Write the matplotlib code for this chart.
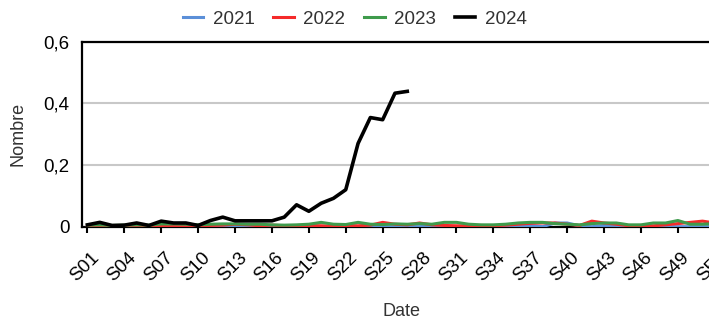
import matplotlib.pyplot as plt
import matplotlib.transforms as mtransforms
import numpy as np

plt.rcParams['font.family'] = ['Liberation Sans', 'DejaVu Sans']

semaines = ["S%02d" % i for i in range(1, 53)]
annees = ["2021", "2022", "2023", "2024"]
couleurs = ["#5b8fd8", "#f52a2a", "#3f9b4c", "#000000"]

v2021 = [0, 0, 0, 0, 0, 0, 0, 0, 0, 0, 0, 0, 0, 0, 0, 0, 0, 0, 0, 0,
         0, 0, 0, 0, 0, 0, 0, 0, 0.004, 0, 0, 0, 0, 0, 0, 0, 0.004, 0, 0.012, 0.012,
         0.003, 0, 0.004, 0.004, 0, 0, 0, 0, 0, 0, 0, 0]
v2022 = [0.004, 0.004, 0.003, 0.004, 0.004, 0.003, 0.004, 0.004, 0.003, 0.004,
         0.004, 0.005, 0.008, 0.006, 0.003, 0.005, 0.003, 0.002, 0.004, 0.003,
         0.002, 0.004, 0.003, 0.005, 0.014, 0.008, 0.006, 0.012, 0.006, 0.004,
         0.003, 0.003, 0.004, 0.003, 0.005, 0.008, 0.011, 0.012, 0.012, 0.008,
         0.004, 0.018, 0.012, 0.008, 0.003, 0.004, 0.003, 0.006, 0.010, 0.014,
         0.018, 0.012]
v2023 = [0.005, 0.006, 0.004, 0.005, 0.006, 0.005, 0.009, 0.009, 0.008, 0.006,
         0.008, 0.009, 0.009, 0.008, 0.008, 0.006, 0.005, 0.006, 0.008, 0.014,
         0.008, 0.007, 0.014, 0.008, 0.007, 0.009, 0.008, 0.010, 0.008, 0.014,
         0.014, 0.008, 0.006, 0.006, 0.008, 0.012, 0.014, 0.014, 0.010, 0.008,
         0.006, 0.010, 0.012, 0.012, 0.006, 0.006, 0.012, 0.012, 0.020, 0.008,
         0.008, 0.010]
v2024 = [0.006, 0.014, 0.004, 0.005, 0.012, 0.004, 0.018, 0.012, 0.012, 0.004,
         0.020, 0.031, 0.019, 0.019, 0.019, 0.019, 0.031, 0.071, 0.050, 0.076,
         0.092, 0.120, 0.270, 0.354, 0.347, 0.433, 0.439]

fig = plt.figure(figsize=(7.09, 3.2), dpi=100)
ax = fig.add_axes([0.1155, 0.2916, 0.9005, 0.578])

x = np.arange(1, 53)
series = [v2021, v2022, v2023, v2024]
for nom, vals, c in zip(annees, series, couleurs):
    lw = 2.6 if nom == "2024" else 2.2
    ax.plot(x[:len(vals)], vals, color=c, lw=lw, label=nom, zorder=3)

ax.set_xlim(0.55, 52.45)
ax.set_ylim(0, 0.6)
ax.set_yticks([0, 0.2, 0.4, 0.6])
ax.set_yticklabels(["0", "0,2", "0,4", "0,6"])
ax.set_xticks(x[::3])
ax.set_xticklabels(semaines[::3], rotation=45, ha="right", rotation_mode="anchor")
ax.tick_params(axis="y", length=0, pad=9, labelsize=13.5)
ax.tick_params(axis="x", length=4, width=1.5, pad=12, labelsize=13.5)
# decaler un peu les etiquettes vers la droite
decal = mtransforms.ScaledTranslation(3 / 100, 0, fig.dpi_scale_trans)
for lab in ax.get_xticklabels():
    lab.set_transform(lab.get_transform() + decal)
ax.grid(axis="y", color="#c8c8c8", lw=1.5)
ax.set_axisbelow(True)
for s in ax.spines.values():
    s.set_linewidth(1.6)
ax.spines["right"].set_visible(False)

ax.set_ylabel("Nombre", fontsize=13, color="#333333", labelpad=12)
ax.set_xlabel("Date", fontsize=13, color="#333333", labelpad=13)

fig.legend(loc="upper center", bbox_to_anchor=(0.5, 1.02), ncol=4, frameon=False,
           fontsize=13.5, handlelength=1.1, handletextpad=0.5, columnspacing=1.0,
           labelcolor="#333333")

fig.savefig("out.png", dpi=100)
